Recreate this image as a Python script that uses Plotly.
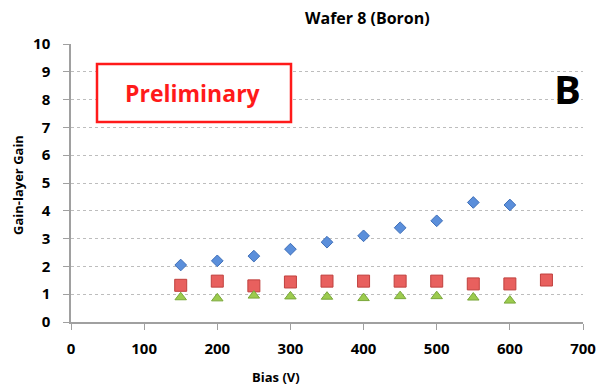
import plotly.graph_objects as go

# Bias voltage (V) and measured gain-layer gain for three devices
bias_blue = [150, 200, 250, 300, 350, 400, 450, 500, 550, 600]
gain_blue = [2.05, 2.2, 2.37, 2.62, 2.87, 3.1, 3.39, 3.64, 4.3, 4.21]

bias_red = [150, 200, 250, 300, 350, 400, 450, 500, 550, 600, 650]
gain_red = [1.32, 1.47, 1.3, 1.44, 1.47, 1.47, 1.47, 1.47, 1.37, 1.37, 1.51]

bias_green = [150, 200, 250, 300, 350, 400, 450, 500, 550, 600]
gain_green = [0.89, 0.85, 0.95, 0.92, 0.91, 0.86, 0.93, 0.93, 0.88, 0.77]

x_ticks = [0, 100, 200, 300, 400, 500, 600, 700]
y_ticks = list(range(0, 11))

FONT = "Open Sans"
W, H = 596, 387
L, R, T, B = 71, 13, 44, 65
PW, PH = W - L - R, H - T - B


def px(xpix):
    return (xpix - L) / PW


def py(ypix):
    return (H - B - ypix) / PH


fig = go.Figure()
fig.add_trace(go.Scatter(
    x=bias_blue, y=gain_blue, mode="markers", showlegend=False,
    marker=dict(symbol="diamond", size=9, color="#5B8FDB",
                line=dict(color="#3F6FB8", width=1))))
fig.add_trace(go.Scatter(
    x=bias_red, y=gain_red, mode="markers", showlegend=False,
    marker=dict(symbol="square", size=12, color="#E8605E",
                line=dict(color="#C0403E", width=1))))
fig.add_trace(go.Scatter(
    x=bias_green, y=gain_green, mode="markers", showlegend=False,
    marker=dict(symbol="triangle-up", size=10, color="#9CCB4E",
                line=dict(color="#7AA83A", width=1))))

fig.update_layout(
    width=W, height=H,
    margin=dict(l=L, r=R, t=T, b=B, autoexpand=False),
    paper_bgcolor="white", plot_bgcolor="white",
    font=dict(family=FONT, color="black"),
)
fig.update_xaxes(
    range=[0, 700], tickvals=x_ticks, ticktext=[f"<b>{v}</b>" for v in x_ticks],
    tickfont=dict(size=15, family=FONT, color="black"), showgrid=False, zeroline=False,
    showline=True, linecolor="#A0A0A0", linewidth=1.5,
    ticks="outside", ticklen=6, tickcolor="#A0A0A0", ticklabelstandoff=6,
    ticklabeloverflow="allow", automargin=False,
)
fig.update_yaxes(
    range=[0, 10], tickvals=y_ticks, ticktext=[f"<b>{v}</b>" for v in y_ticks],
    tickfont=dict(size=15, family=FONT, color="black"), showgrid=True, gridcolor="#BDBDBD",
    griddash="dot", gridwidth=1, zeroline=False,
    showline=True, linecolor="#A0A0A0", linewidth=1.5,
    ticks="outside", ticklen=6, tickcolor="#A0A0A0", ticklabelstandoff=10,
    ticklabeloverflow="allow", automargin=False,
)

# Title and axis titles placed as annotations
fig.add_annotation(text="<b>Wafer 8 (Boron)</b>", xref="paper", yref="paper",
                   x=px(367), y=py(18), xanchor="center", yanchor="middle",
                   showarrow=False, font=dict(size=16, family=FONT, color="black"))
fig.add_annotation(text="<b>Bias (V)</b>", xref="paper", yref="paper",
                   x=px(276), y=py(377), xanchor="center", yanchor="middle",
                   showarrow=False, font=dict(size=13, family=FONT, color="black"))
fig.add_annotation(text="<b>Gain-layer Gain</b>", xref="paper", yref="paper",
                   x=px(18), y=py(185), xanchor="center", yanchor="middle",
                   textangle=-90, showarrow=False,
                   font=dict(size=13, family=FONT, color="black"))

# "Preliminary" stamp
fig.add_shape(type="rect", xref="paper", yref="paper",
              x0=px(97), x1=px(291), y0=py(122), y1=py(64),
              line=dict(color="#FF1A1A", width=2.5), fillcolor="white")
fig.add_annotation(text="<b>Preliminary</b>", xref="paper", yref="paper",
                   x=px(193), y=py(93), xanchor="center", yanchor="middle",
                   showarrow=False, font=dict(size=23, color="#FF1A1A", family=FONT))
fig.add_annotation(text="<b>B</b>", xref="paper", yref="paper",
                   x=px(567), y=py(88), xanchor="center", yanchor="middle",
                   showarrow=False, font=dict(size=40, color="black", family=FONT))

fig.write_html("out.html")
